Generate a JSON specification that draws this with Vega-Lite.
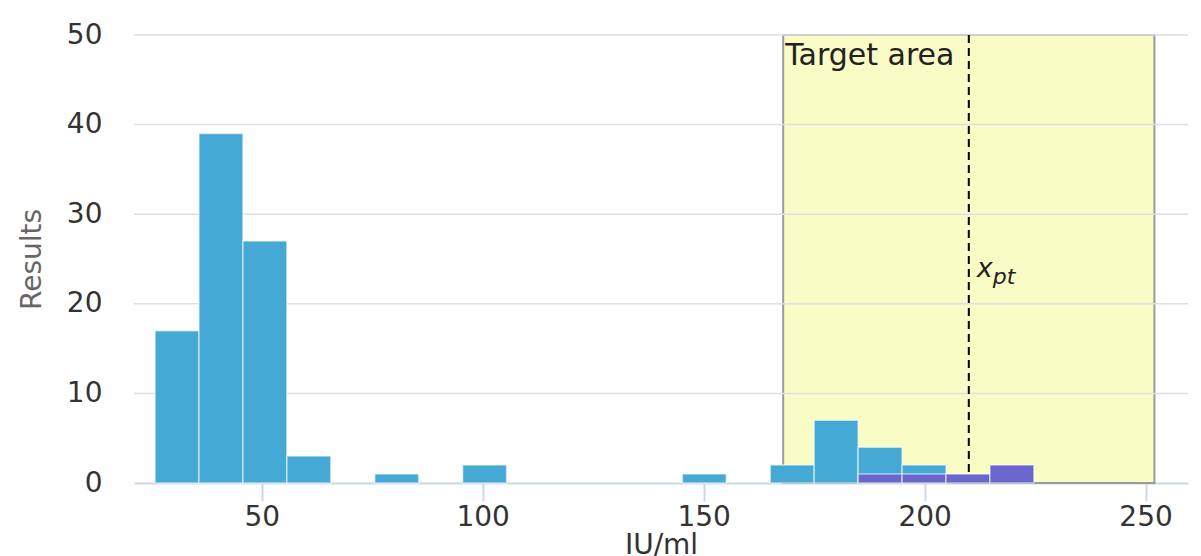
{
  "$schema": "https://vega.github.io/schema/vega-lite/v6.json",
  "width": 1054,
  "height": 448,
  "autosize": {"type": "none"},
  "padding": {"left": 134, "top": 35, "right": 13, "bottom": 73},
  "background": "#ffffff",
  "config": {
    "view": {"stroke": null},
    "font": "DejaVu Sans"
  },
  "datasets": {
    "bins": [
      {"start": 25.86, "end": 35.80, "results": 17, "series": "all"},
      {"start": 35.80, "end": 45.75, "results": 39, "series": "all"},
      {"start": 45.75, "end": 55.69, "results": 27, "series": "all"},
      {"start": 55.69, "end": 65.63, "results": 3, "series": "all"},
      {"start": 75.58, "end": 85.52, "results": 1, "series": "all"},
      {"start": 95.46, "end": 105.41, "results": 2, "series": "all"},
      {"start": 145.18, "end": 155.12, "results": 1, "series": "all"},
      {"start": 165.07, "end": 175.01, "results": 2, "series": "all"},
      {"start": 175.01, "end": 184.95, "results": 7, "series": "all"},
      {"start": 184.95, "end": 194.90, "results": 4, "series": "all"},
      {"start": 194.90, "end": 204.84, "results": 2, "series": "all"},
      {"start": 184.95, "end": 194.90, "results": 1, "series": "sub"},
      {"start": 194.90, "end": 204.84, "results": 1, "series": "sub"},
      {"start": 204.84, "end": 214.78, "results": 1, "series": "sub"},
      {"start": 214.78, "end": 224.73, "results": 2, "series": "sub"}
    ],
    "target": [{"low": 168, "high": 252, "xpt": 210}],
    "grid": [{"v": 10}, {"v": 20}, {"v": 30}, {"v": 40}, {"v": 50}]
  },
  "layer": [
    {
      "data": {"name": "target"},
      "mark": {"type": "rect", "fill": "#fafcc6", "stroke": "#9a9a9a", "strokeWidth": 2},
      "encoding": {
        "x": {
          "field": "low", "type": "quantitative",
          "scale": {"domain": [21.1, 259.6], "nice": false, "zero": false},
          "axis": {
            "values": [50, 100, 150, 200, 250],
            "grid": false,
            "domainColor": "#ccd6eb", "domainWidth": 2,
            "tickColor": "#ccd6eb", "tickWidth": 2, "tickSize": 18,
            "labelFontSize": 28, "labelColor": "#333333", "labelPadding": 2,
            "labelFont": "DejaVu Sans",
            "title": "IU/ml", "titleFontSize": 28, "titleFontWeight": "normal",
            "titleColor": "#333333", "titlePadding": 0, "titleFont": "DejaVu Sans"
          }
        },
        "x2": {"field": "high"},
        "y": {
          "datum": 0, "type": "quantitative",
          "scale": {"domain": [0, 50], "nice": false},
          "axis": {
            "values": [0, 10, 20, 30, 40, 50],
            "grid": false, "domain": false, "ticks": false,
            "labelFontSize": 28, "labelColor": "#333333", "labelPadding": 32,
            "labelFont": "DejaVu Sans",
            "title": "Results", "titleFontSize": 28, "titleFontWeight": "normal",
            "titleColor": "#666666", "titlePadding": 20, "titleFont": "DejaVu Sans"
          }
        },
        "y2": {"datum": 50}
      }
    },
    {
      "data": {"name": "grid"},
      "mark": {"type": "rule", "color": "#dcdfe6", "strokeWidth": 1.5},
      "encoding": {"y": {"field": "v", "type": "quantitative"}}
    },
    {
      "data": {"name": "target"},
      "mark": {"type": "rule", "color": "#000000", "strokeWidth": 2, "strokeDash": [8, 5]},
      "encoding": {"x": {"field": "xpt", "type": "quantitative"}}
    },
    {
      "data": {"name": "bins"},
      "transform": [{"filter": "datum.series === 'all'"}],
      "mark": {"type": "rect", "fill": "#45a9d6", "stroke": "#ffffff", "strokeOpacity": 0.55, "strokeWidth": 1.5},
      "encoding": {
        "x": {"field": "start", "type": "quantitative"},
        "x2": {"field": "end"},
        "y": {"field": "results", "type": "quantitative"},
        "y2": {"datum": 0}
      }
    },
    {
      "data": {"name": "bins"},
      "transform": [{"filter": "datum.series === 'sub'"}],
      "mark": {"type": "rect", "fill": "#6a66cb", "stroke": "#ffffff", "strokeOpacity": 0.55, "strokeWidth": 1.5},
      "encoding": {
        "x": {"field": "start", "type": "quantitative"},
        "x2": {"field": "end"},
        "y": {"field": "results", "type": "quantitative"},
        "y2": {"datum": 0}
      }
    },
    {
      "data": {"name": "target"},
      "mark": {"type": "text", "text": "Target area", "align": "left", "baseline": "alphabetic", "dx": 2, "dy": 30, "fontSize": 30, "color": "#222222", "font": "DejaVu Sans"},
      "encoding": {
        "x": {"field": "low", "type": "quantitative"},
        "y": {"datum": 50, "type": "quantitative"}
      }
    },
    {
      "data": {"name": "target"},
      "mark": {"type": "text", "text": "x", "align": "left", "baseline": "alphabetic", "dx": 8, "fontSize": 27, "fontStyle": "italic", "color": "#222222", "font": "DejaVu Sans"},
      "encoding": {
        "x": {"field": "xpt", "type": "quantitative"},
        "y": {"datum": 23, "type": "quantitative"}
      }
    },
    {
      "data": {"name": "target"},
      "mark": {"type": "text", "text": "pt", "align": "left", "baseline": "alphabetic", "dx": 24, "dy": 7, "fontSize": 22, "fontStyle": "italic", "color": "#222222", "font": "DejaVu Sans"},
      "encoding": {
        "x": {"field": "xpt", "type": "quantitative"},
        "y": {"datum": 23, "type": "quantitative"}
      }
    }
  ]
}
